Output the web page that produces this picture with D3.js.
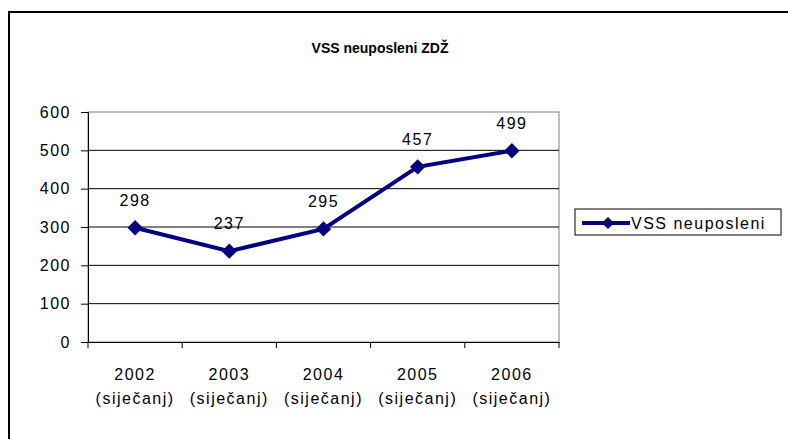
<!DOCTYPE html>
<html>
<head>
<meta charset="utf-8">
<script src="https://cdn.jsdelivr.net/npm/d3@7"></script>
<style>
  body { margin: 0; background: #fff; }
  text { font-family: "Liberation Sans", Arial, sans-serif; fill: #000; }
  .lbl { font-size: 16px; letter-spacing: 1.5px; }
</style>
</head>
<body>
<svg width="788" height="439"></svg>
<script>
const years = ['2002', '2003', '2004', '2005', '2006']
const months = ['(siječanj)', '(siječanj)', '(siječanj)', '(siječanj)', '(siječanj)']
const values = [298, 237, 295, 457, 499]
const yTicks = [0, 100, 200, 300, 400, 500, 600]
const title = 'VSS neuposleni ZDŽ'
const seriesName = 'VSS neuposleni'

const svg = d3.select('svg'),
  margin = {top: 112, left: 88},
  width = 471,
  height = 230,
  navy = '#000080'

// outer frame (only top and left edges are visible)
svg.append('path')
  .attr('d', 'M9,439 V12 H788')
  .attr('fill', 'none')
  .attr('stroke', '#000')
  .attr('stroke-width', 2)

svg.append('text')
  .attr('x', 380).attr('y', 53)
  .attr('text-anchor', 'middle')
  .attr('font-size', 14)
  .attr('font-weight', 'bold')
  .text(title)

const x = d3.scaleBand().domain(years).range([0, width]),
  y = d3.scaleLinear().domain([0, 600]).range([height, 0])

const g = svg.append('g')
  .attr('transform', `translate(${margin.left}, ${margin.top})`)

// plot area border
g.append('rect')
  .attr('width', width).attr('height', height)
  .attr('fill', '#fff').attr('stroke', '#808080')

// gridlines
g.selectAll('.grid')
  .data(yTicks.filter(d => d > 0 && d < 600))
  .enter().append('line')
  .attr('x1', 0).attr('x2', width)
  .attr('y1', d => y(d)).attr('y2', d => y(d))
  .attr('stroke', '#000')

// y axis
const ya = g.append('g')
  .call(d3.axisLeft(y).tickValues(yTicks).tickSize(7).tickPadding(10))
ya.select('.domain').attr('stroke', '#000')
ya.selectAll('line').attr('stroke', '#000')
ya.selectAll('text').attr('class', 'lbl').attr('font-size', null).attr('font-family', null)

// x axis
const xa = g.append('g')
  .attr('transform', `translate(0, ${height})`)
  .call(d3.axisBottom(x).tickValues([]).tickSizeOuter(0))
xa.select('.domain').attr('stroke', '#000')
xa.selectAll('.tk')
  .data(d3.range(years.length + 1))
  .enter().append('line')
  .attr('x1', i => i * x.step()).attr('x2', i => i * x.step())
  .attr('y1', 0).attr('y2', 6)
  .attr('stroke', '#000')

const lbl = g.selectAll('.xlbl')
  .data(years)
  .enter().append('text')
  .attr('class', 'lbl')
  .attr('text-anchor', 'middle')
lbl.append('tspan').attr('y', height + 38).attr('x', d => x(d) + x.bandwidth() / 2).text(d => d)
lbl.append('tspan').attr('y', height + 62).attr('x', d => x(d) + x.bandwidth() / 2).text((d, i) => months[i])

const cx = i => x(years[i]) + x.bandwidth() / 2

g.append('path')
  .datum(values)
  .attr('fill', 'none')
  .attr('stroke', navy)
  .attr('stroke-width', 4)
  .attr('d', d3.line().x((d, i) => cx(i)).y(d => y(d)))

const diamond = d3.symbol().type(d3.symbolDiamond2).size(150)
g.selectAll('.pt')
  .data(values)
  .enter().append('path')
  .attr('transform', (d, i) => `translate(${cx(i)}, ${y(d)})`)
  .attr('d', diamond)
  .attr('fill', navy)

g.selectAll('.val')
  .data(values)
  .enter().append('text')
  .attr('class', 'lbl')
  .attr('x', (d, i) => cx(i))
  .attr('y', d => y(d) - 22)
  .attr('text-anchor', 'middle')
  .text(d => d)

// legend
const lg = svg.append('g').attr('transform', 'translate(575, 209)')
lg.append('rect').attr('width', 206).attr('height', 26)
  .attr('fill', '#fff').attr('stroke', '#000')
lg.append('line').attr('x1', 7).attr('x2', 55).attr('y1', 14).attr('y2', 14)
  .attr('stroke', navy).attr('stroke-width', 4)
lg.append('path').attr('transform', 'translate(33, 14)')
  .attr('d', d3.symbol().type(d3.symbolDiamond2).size(95)).attr('fill', navy)
lg.append('text').attr('class', 'lbl').attr('x', 56).attr('y', 20).text(seriesName)
</script>
</body>
</html>
